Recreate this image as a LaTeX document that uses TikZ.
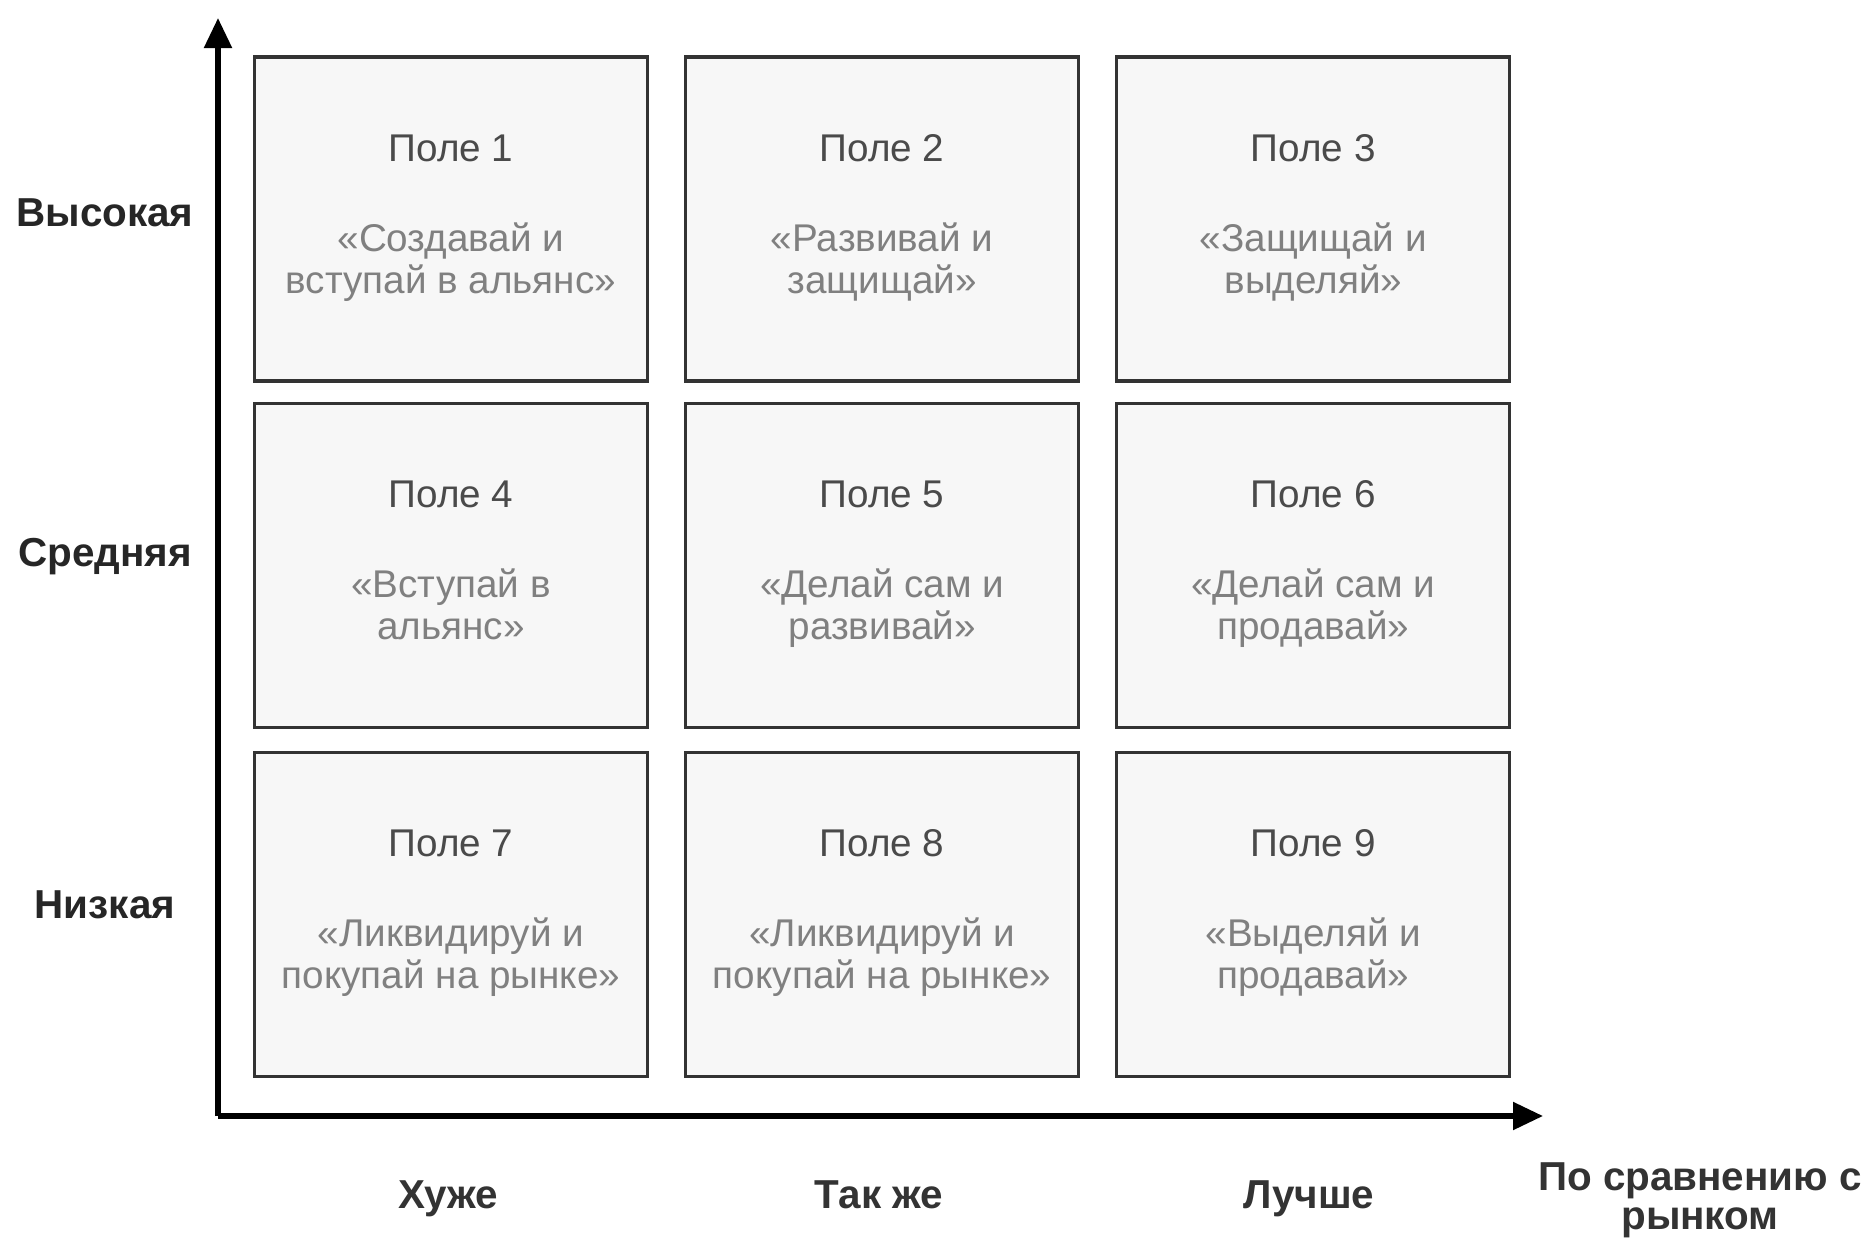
\documentclass[tikz,border=0pt]{standalone}
\usepackage{fontspec}
\setmainfont{Liberation Sans}
\usetikzlibrary{arrows.meta,positioning}
\definecolor{boxfill}{HTML}{F7F7F7}
\definecolor{titlegray}{HTML}{4A4A4A}
\definecolor{quotegray}{HTML}{808080}
\tikzset{
    field/.style={
        rectangle,
        draw=black!80,
        line width=0.9pt,
        fill=boxfill,
        minimum width=3.93cm,
        minimum height=3.24cm,
        align=center,
        text=quotegray,
        font=\fontsize{11}{12}\selectfont,
        inner sep=0pt,
    },
    rowlab/.style={
        font=\fontsize{11.5}{13}\selectfont\bfseries,
        text=black!85,
    },
    collab/.style={
        font=\fontsize{11.5}{11}\selectfont\bfseries,
        text=black!80,
        align=center,
    },
    axis/.style={
        draw=black,
        line width=1.5pt,
        -{Triangle[length=3mm,width=2.7mm]},
    },
    node distance=0.19cm and 0.35cm,
}
\newcommand{\fieldtext}[2]{\strut{\color{titlegray}#1}\\[13.6pt]#2\strut}

\begin{document}
\begin{tikzpicture}
    \useasboundingbox (0,0) rectangle (18.75,-12.41);
    % fields
    \node [field] (F1) at (4.51,-2.19) {\fieldtext{Поле 1}{«Создавай и\\вступай в альянс»}};
    \node [field,right=of F1] (F2) {\fieldtext{Поле 2}{«Развивай и\\защищай»}};
    \node [field,right=of F2] (F3) {\fieldtext{Поле 3}{«Защищай и\\выделяй»}};
    \node [field,below=of F1] (F4) {\fieldtext{Поле 4}{«Вступай в\\альянс»}};
    \node [field,right=of F4] (F5) {\fieldtext{Поле 5}{«Делай сам и\\развивай»}};
    \node [field,right=of F5] (F6) {\fieldtext{Поле 6}{«Делай сам и\\продавай»}};
    \node [field,below=0.22cm of F4] (F7) {\fieldtext{Поле 7}{«Ликвидируй и\\покупай на рынке»}};
    \node [field,right=of F7] (F8) {\fieldtext{Поле 8}{«Ликвидируй и\\покупай на рынке»}};
    \node [field,right=of F8] (F9) {\fieldtext{Поле 9}{«Выделяй и\\продавай»}};
    % axes
    \coordinate (O) at (2.18,-11.16);
    \coordinate (Ytip) at (2.18,-0.18);
    \coordinate (Xtip) at (15.43,-11.16);
    \draw [axis] (O) -- (Ytip);
    \draw [axis] (O) -- (Xtip);
    % labels
    \node [rowlab] (high) at (1.05,-2.13) {Высокая};
    \node [rowlab] (mid) at (1.05,-5.57) {Средняя};
    \node [rowlab] (low) at (1.05,-9.05) {Низкая};
    \node [collab] (worse) at (4.48,-12.0) {\strut Хуже};
    \node [collab] (same) at (8.79,-12.0) {\strut Так же};
    \node [collab] (better) at (13.09,-12.0) {\strut Лучше};
    \node [collab] (market) at (17.00,-12.0) {По сравнению с\\рынком};
\end{tikzpicture}
\end{document}
